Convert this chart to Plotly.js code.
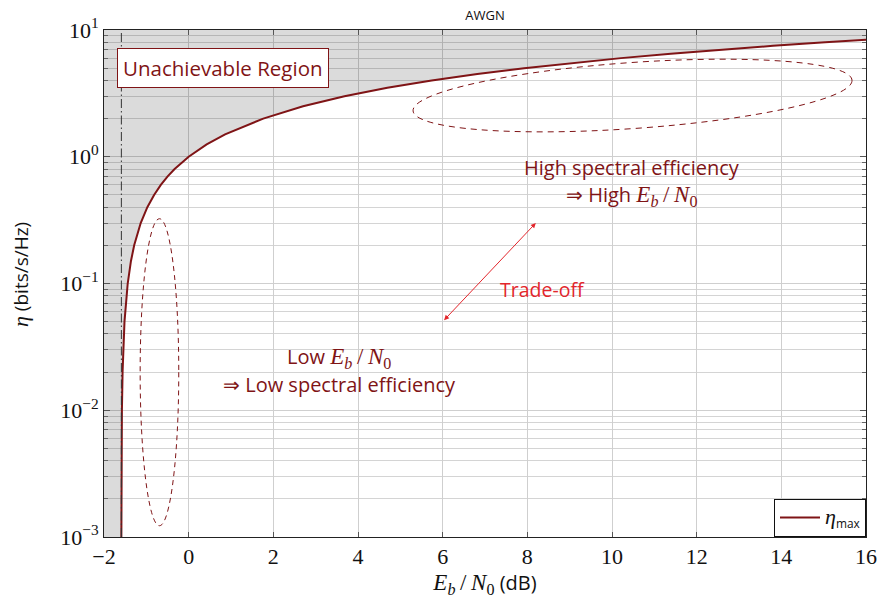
<!DOCTYPE html>
<html>
<head>
<meta charset="utf-8">
<script src="https://cdn.plot.ly/plotly-3.0.1.min.js"></script>
<style>html,body{margin:0;padding:0;background:#fff;}#chart{width:878px;height:602px;}</style>
</head>
<body>
<div id="chart"></div>
<script>
// Data: spectral efficiency eta (bits/s/Hz) vs Eb/N0 (dB)
const ebn0 = [-1.590, -1.589, -1.584, -1.577, -1.561, -1.516, -1.440, -1.364, -1.287, -1.133, -0.976, -0.817, -0.658, -0.496, -0.332, 0.000, 0.425, 0.860, 1.761, 2.702, 3.680, 4.693, 5.740, 6.818, 7.924, 9.056, 10.212, 11.389, 12.587, 13.803, 15.035, 16.031];
const eta  = [0.001, 0.002, 0.005, 0.01, 0.02, 0.05, 0.1, 0.15, 0.2, 0.3, 0.4, 0.5, 0.6, 0.7, 0.8, 1, 1.25, 1.5, 2, 2.5, 3, 3.5, 4, 4.5, 5, 5.5, 6, 6.5, 7, 7.5, 8, 8.4];
const shannonLimit = -1.59;
const xRange = [-2, 16];
const yRange = [1e-3, 10];
const xTicks = [-2, 0, 2, 4, 6, 8, 10, 12, 14, 16];
const yTicks = [1e-3, 1e-2, 1e-1, 1, 10];
const yTickText = ['10<sup>−3</sup>', '10<sup>−2</sup>', '10<sup>−1</sup>', '10<sup>0</sup>', '10<sup>1</sup>'];

const DARK = '#7f1416';
const RED = '#e3262c';
const SANS = '"Open Sans", Lato, sans-serif';
const SERIF = '"Liberation Serif", "DejaVu Serif", serif';
const SERIF_Q = "'Liberation Serif', 'DejaVu Serif', serif";
const M = {l: 104, r: 12, t: 30, b: 65};
const W = 878 - M.l - M.r, H = 602 - M.t - M.b;

// minor log ticks 2..9 per decade
const minorVals = [];
for (let k = -3; k < 1; k++) for (let d = 2; d <= 9; d++) minorVals.push(d * Math.pow(10, k));

// fill polygon for the unachievable region (left/above the curve)
const fillX = [xRange[0]].concat(ebn0, [ebn0[ebn0.length - 1], xRange[0]]);
const fillY = [yRange[0]].concat(eta, [yRange[1], yRange[1]]);

// helpers for decorative dashed ellipses (in plot-area domain coordinates)
function dataToPx(x, ly) { // x data, ly = log10(y)
  return [(x - xRange[0]) / (xRange[1] - xRange[0]) * W,
          (1 - (ly - Math.log10(yRange[0])) / (Math.log10(yRange[1]) - Math.log10(yRange[0]))) * H];
}
function ellipsePath(cx, cly, a, b, rotDeg) {
  const c = dataToPx(cx, cly);
  const th = rotDeg * Math.PI / 180;
  const u = [Math.cos(th), -Math.sin(th)], v = [Math.sin(th), Math.cos(th)];
  const k = 0.5523;
  const E = t => [c[0] + a * Math.cos(t) * u[0] + b * Math.sin(t) * v[0], c[1] + a * Math.cos(t) * u[1] + b * Math.sin(t) * v[1]];
  const D = t => [-a * Math.sin(t) * u[0] + b * Math.cos(t) * v[0], -a * Math.sin(t) * u[1] + b * Math.cos(t) * v[1]];
  const f = p => (p[0] / W).toFixed(5) + ',' + (1 - p[1] / H).toFixed(5);
  let s = 'M' + f(E(0));
  for (let i = 0; i < 4; i++) {
    const t0 = i * Math.PI / 2, t1 = t0 + Math.PI / 2;
    const p0 = E(t0), d0 = D(t0), p3 = E(t1), d3 = D(t1);
    s += ' C' + f([p0[0] + k * d0[0], p0[1] + k * d0[1]]) + ' ' + f([p3[0] - k * d3[0], p3[1] - k * d3[1]]) + ' ' + f(p3);
  }
  return s + ' Z';
}

const serifSpan = (s, size) => '<span style="font-family:' + SERIF_Q + ';font-size:' + size + 'px">' + s + '</span>';
const ital = (s, size) => serifSpan('<i>' + s + '</i>', size);
const EbN0 = size => ital('E<sub>b</sub>', size) + serifSpan('\u2009/\u2009', size) + ital('N', size) + serifSpan('<sub>0</sub>', size);

const traces = [
  {x: fillX, y: fillY, type: 'scatter', mode: 'lines', fill: 'toself', fillcolor: 'rgba(0,0,0,0.14)',
   line: {width: 0}, hoverinfo: 'skip', showlegend: false},
  {x: ebn0, y: eta, type: 'scatter', mode: 'lines', name: ital('η', 22) + '<sub>max</sub>',
   line: {color: DARK, width: 2}}
];

const txt = (x, y, text, color, size) => ({xref: 'x', yref: 'y', x: x, y: y, text: text, showarrow: false,
  xanchor: 'center', yanchor: 'middle', font: {family: SANS, size: size, color: color}});

const layout = {
  width: 878, height: 602, margin: M,
  paper_bgcolor: '#fff', plot_bgcolor: '#fff',
  font: {family: SANS, color: '#111'},
  title: {text: 'AWGN', font: {family: SANS, size: 13, color: '#111'}, xref: 'paper', x: 0.5, xanchor: 'center', yref: 'container', y: 1 - 15 / 602, yanchor: 'middle'},
  showlegend: true,
  legend: {x: 1, y: 0, xanchor: 'right', yanchor: 'bottom', bordercolor: '#111', borderwidth: 1, bgcolor: '#fff',
           itemwidth: 40, font: {family: SANS, size: 17, color: '#111'}},
  xaxis: {type: 'linear', range: xRange, tickmode: 'array', tickvals: xTicks,
          ticks: 'inside', ticklen: 5, tickcolor: '#555', mirror: 'allticks', showline: true, linecolor: '#222', linewidth: 1,
          showgrid: true, gridcolor: '#cfcfcf', gridwidth: 1, zeroline: false,
          tickfont: {family: SERIF, size: 22, color: '#111'},
          title: {text: EbN0(23) + ' (dB)', font: {family: SANS, size: 20, color: '#111'}, standoff: 6}},
  yaxis: {type: 'log', range: [Math.log10(yRange[0]), Math.log10(yRange[1])], tickmode: 'array', tickvals: yTicks, ticktext: yTickText,
          ticks: 'inside', ticklen: 6, tickcolor: '#555', mirror: 'allticks', showline: true, linecolor: '#222', linewidth: 1,
          showgrid: true, gridcolor: '#cfcfcf', gridwidth: 1, zeroline: false,
          minor: {tickmode: 'array', tickvals: minorVals, ticks: 'inside', ticklen: 4, tickcolor: '#666', showgrid: true, gridcolor: '#d4d4d4', gridwidth: 1},
          tickfont: {family: SERIF, size: 22, color: '#111'}},
  shapes: [
    {type: 'line', xref: 'x', yref: 'y domain', x0: shannonLimit, x1: shannonLimit, y0: 0, y1: 1,
     line: {color: '#333', width: 1, dash: '9px,3px,1.5px,3px'}, layer: 'above'},
    {type: 'path', xref: 'x domain', yref: 'y domain', path: ellipsePath(-0.69, -1.70, 19.3, 153.5, 0),
     line: {color: DARK, width: 1, dash: '5px,4px'}, layer: 'above'},
    {type: 'path', xref: 'x domain', yref: 'y domain', path: ellipsePath(10.485, 0.483, 220, 33, 4),
     line: {color: DARK, width: 1, dash: '6px,5px'}, layer: 'above'}
  ],
  annotations: [
    {xref: 'paper', yref: 'paper', x: (21 - M.l) / W, y: 1 - (275 - M.t) / H, textangle: -90, showarrow: false,
     xanchor: 'center', yanchor: 'middle', text: ital('η', 22) + ' (bits/s/Hz)', font: {family: SANS, size: 19, color: '#111'}},
    {xref: 'x', yref: 'y', x: 0.8, y: 0.704, text: 'Unachievable Region', showarrow: false,
     font: {family: SANS, size: 20.5, color: DARK}, bgcolor: '#fff', bordercolor: DARK, borderwidth: 1, borderpad: 5},
    txt(10.47, -0.081, 'High spectral efficiency', DARK, 20),
    txt(10.47, -0.302, '⇒ High ' + EbN0(23), DARK, 20),
    txt(3.55, -1.580, 'Low ' + EbN0(23), DARK, 20),
    txt(3.57, -1.793, '⇒ Low spectral efficiency', DARK, 20),
    txt(8.35, -1.051, 'Trade-off', RED, 19.5),
    {xref: 'x', yref: 'y', x: 8.2, y: Math.log10(0.3), axref: 'x', ayref: 'y', ax: 6.0, ay: Math.log10(0.05),
     text: '', showarrow: true, arrowside: 'end+start', arrowhead: 2, startarrowhead: 2, arrowsize: 1, startarrowsize: 1,
     arrowwidth: 1, arrowcolor: RED, standoff: 0, startstandoff: 0}
  ]
};

Plotly.newPlot('chart', traces, layout, {displayModeBar: false, staticPlot: true});
</script>
</body>
</html>
